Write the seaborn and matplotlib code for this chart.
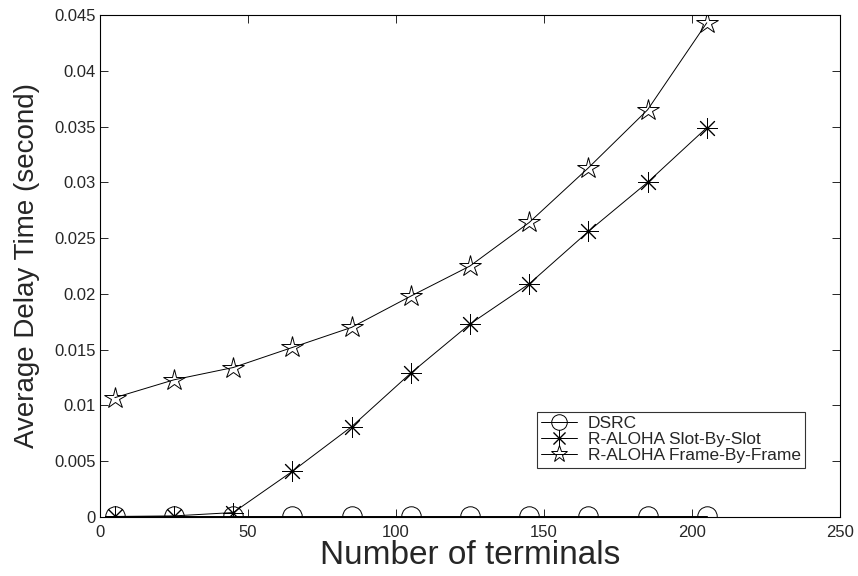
import numpy as np
import pandas as pd
import seaborn as sns
import matplotlib
matplotlib.use("Agg")
import matplotlib.pyplot as plt

terminals = [5, 25, 45, 65, 85, 105, 125, 145, 165, 185, 205]
dsrc = [0.0001, 0.0001, 0.0001, 0.0001, 0.0001, 0.0001, 0.0001, 0.0001, 0.0001, 0.0001, 0.0001]
slot_by_slot = [0.00005, 0.0001, 0.0004, 0.0041, 0.0081, 0.0129, 0.0173, 0.0209, 0.0256, 0.0300, 0.0349]
frame_by_frame = [0.0107, 0.0123, 0.0134, 0.0152, 0.0170, 0.0198, 0.0225, 0.0264, 0.0313, 0.0365, 0.0443]

series = [
    ("DSRC", dsrc, "o", 14),
    ("R-ALOHA Slot-By-Slot", slot_by_slot, (8, 2, 0), 15),
    ("R-ALOHA Frame-By-Frame", frame_by_frame, "*", 16),
]


def main():
    sns.set_style("ticks")
    plt.rcParams['font.family'] = ['Liberation Sans', 'DejaVu Sans']

    fig, ax = plt.subplots(figsize=(8.58, 5.76), dpi=100)
    fig.subplots_adjust(left=0.1166, right=0.979, top=0.974, bottom=0.1024)

    for name, vals, mk, ms in series:
        df = pd.DataFrame({"x": terminals, "y": vals})
        sns.lineplot(
            data=df, x="x", y="y", ax=ax, color="black", linewidth=0.7,
            marker=mk, markersize=ms, markerfacecolor="none",
            markeredgecolor="black", markeredgewidth=0.7, label=name,
        )

    ax.set_xlim(0, 250)
    ax.set_ylim(0, 0.045)
    ax.set_xticks([0, 50, 100, 150, 200, 250])
    ax.set_yticks(np.arange(0, 0.0451, 0.005))
    ax.set_yticklabels(["0", "0.005", "0.01", "0.015", "0.02", "0.025",
                        "0.03", "0.035", "0.04", "0.045"])
    ax.tick_params(direction="in", top=True, right=True, length=6,
                   width=0.7, labelsize=12)
    ax.tick_params(axis="x", pad=6)
    ax.tick_params(axis="y", pad=3)
    for sp in ax.spines.values():
        sp.set_visible(True)
        sp.set_linewidth(0.8)
        sp.set_color("black")

    ax.set_xlabel("Number of terminals", fontsize=24, labelpad=0)
    ax.set_ylabel("Average Delay Time (second)", fontsize=20, labelpad=10)

    leg = ax.legend(loc="lower right", bbox_to_anchor=(0.953, 0.098),
                    borderaxespad=0, fontsize=12.5, frameon=True,
                    fancybox=False, borderpad=0.25, labelspacing=0.05,
                    handlelength=2.1, handletextpad=0.6, markerscale=0.8)
    leg.get_frame().set_edgecolor("black")
    leg.get_frame().set_linewidth(0.8)

    plt.savefig("out.png", dpi=100)


if __name__ == "__main__":
    main()
